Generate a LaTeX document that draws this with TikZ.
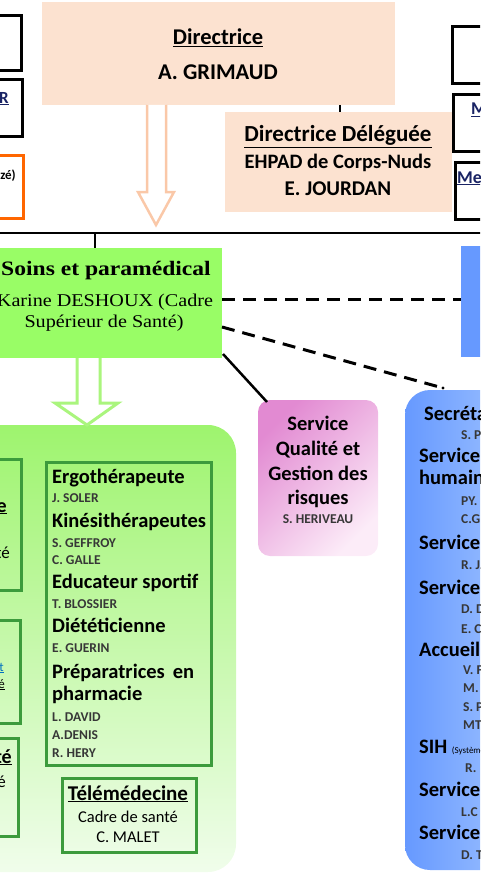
\documentclass[tikz,border=0pt]{standalone}
\usepackage{fontspec}
\setmainfont{Carlito}
\newfontfamily\timesf{Liberation Serif}
\usetikzlibrary{calc}
\definecolor{peach}{RGB}{252,226,208}
\definecolor{peachline}{RGB}{250,200,168}
\definecolor{soinsgreen}{RGB}{153,253,102}
\definecolor{gtop}{RGB}{158,244,110}
\definecolor{gbot}{RGB}{240,253,235}
\definecolor{gborder}{RGB}{60,155,60}
\definecolor{arrowgreen}{RGB}{170,245,125}
\definecolor{pinkA}{RGB}{226,138,210}
\definecolor{pinkB}{RGB}{252,236,248}
\definecolor{blueA}{RGB}{102,153,255}
\definecolor{blueC}{RGB}{160,195,255}
\definecolor{navy}{RGB}{25,35,100}
\definecolor{orangeb}{RGB}{255,102,0}
\definecolor{namegray}{RGB}{55,55,55}
\definecolor{linkblue}{RGB}{0,112,192}
\begin{document}
\begin{tikzpicture}[x=1pt,y=-1pt,
  bx/.style={inner sep=0pt,outer sep=0pt,anchor=north west},
  blk/.style={bx,draw=black,line width=3pt,fill=white},
  gbx/.style={bx,draw=gborder,line width=3pt},
  hd/.style={inner sep=0pt,anchor=base west,font=\bfseries\fontsize{20.5}{24}\selectfont},
  nm/.style={inner sep=0pt,anchor=base west,text=namegray,font=\bfseries\fontsize{13.5}{15}\selectfont},
  ttl/.style={inner sep=0pt,anchor=base,font=\bfseries\fontsize{22.5}{26}\selectfont},
  sub/.style={inner sep=0pt,anchor=base,font=\bfseries\fontsize{20.5}{24}\selectfont},
  reg/.style={inner sep=0pt,anchor=base,font=\fontsize{16.5}{20}\selectfont},
  conn/.style={line width=2.5pt,black},
  dsh/.style={line width=3pt,black,dash pattern=on 13pt off 8pt},
]
\useasboundingbox (0,0) rectangle (480,880);
\clip (0,0) rectangle (480,880);

% ---- top-left boxes
\node[blk,minimum width=41,minimum height=55] (la) at (-20,16) {};
\node[blk,minimum width=42,minimum height=56] (lb) at (-20,80) {};
\node[bx,draw=orangeb,line width=3pt,fill=white,minimum width=43,minimum height=63] (lc) at (-20,155) {};
\node[inner sep=0pt,anchor=base east,text=navy,font=\bfseries\fontsize{17}{20}\selectfont] (lbt) at (9,103) {\underline{R}};
\node[inner sep=0pt,anchor=base east,font=\bfseries\fontsize{13}{16}\selectfont] (lct) at (16,179) {zé)};

% ---- Directrice
\node[bx,fill=peach,minimum width=353,minimum height=103] (dir) at (42,2) {};
\node[ttl] (dir1) at (218,45) {\underline{Directrice}};
\node[ttl] (dir2) at (218,80) {A. GRIMAUD};

% ---- Directrice deleguee
\node[bx,fill=peach,minimum width=227,minimum height=100] (del) at (225,112) {};
\node[ttl,font=\bfseries\fontsize{23}{26}\selectfont] (del1) at (338,142) {\underline{Directrice Déléguée}};
\node[sub] (del2) at (338,168) {EHPAD de Corps-Nuds};
\node[sub,font=\bfseries\fontsize{21}{24}\selectfont] (del3) at (338,195) {E. JOURDAN};
\coordinate (tk) at (340,0);
\draw[conn] (tk |- dir.south) -- (tk |- del.north);

% ---- top-right boxes
\node[blk,minimum width=48,minimum height=57] (ra) at (452,27) {};
\node[blk,minimum width=47,minimum height=56] (rb) at (453,95) {};
\node[blk,minimum width=45,minimum height=57] (rc) at (455,162) {};
\node[inner sep=0pt,anchor=base west,text=navy,font=\bfseries\fontsize{18}{20}\selectfont] (rbt) at (471,115) {\underline{Médecin}};
\node[inner sep=0pt,anchor=base west,text=navy,font=\bfseries\fontsize{18}{20}\selectfont] (rct) at (457,183) {\underline{Medecin coordonnateur}};

% ---- peach hollow arrow
\draw[peachline,line width=2.5pt,fill=white,line join=miter]
  (147,105) -- (147,192) -- (138,192) -- (156,225) -- (174,192) -- (166,192) -- (166,105);

% ---- bus
\coordinate (busL) at (-5,233);
\coordinate (busR) at (485,233);
\draw[conn] (busL) -- (busR);

% ---- Soins
\node[bx,fill=soinsgreen,minimum width=242,minimum height=110] (soins) at (-20,248) {};
\node[inner sep=0pt,anchor=base,font=\timesf\bfseries\fontsize{20.5}{24}\selectfont] (s1) at (106,275) {\scalebox{1.15}[1]{Soins et paramédical}};
\node[inner sep=0pt,anchor=base,font=\timesf\fontsize{18}{22}\selectfont] (s2) at (105,306) {\scalebox{1.12}[1]{Karine DESHOUX (Cadre}};
\node[inner sep=0pt,anchor=base,font=\timesf\fontsize{18}{22}\selectfont] (s3) at (104,327) {\scalebox{1.12}[1]{Supérieur de Santé)}};
\coordinate (busS) at (95,233);
\draw[conn] (busS) -- (busS |- soins.north);

% ---- blue top-right
\node[bx,fill=blueA,minimum width=40,minimum height=111] (btop) at (461,246) {};

% ---- green panel
\node[bx,rounded corners=28pt,top color=gtop,bottom color=gbot,minimum width=276,minimum height=447] (gp) at (-40,425) {};
\draw[arrowgreen,line width=3pt,fill=white,line join=miter]
  (77,358) -- (77,403) -- (55,403) -- (87,425) -- (118,403) -- (100,403) -- (100,358);

% left clipped green boxes
\node[gbx,minimum width=41,minimum height=131] (lg) at (-20,459) {};
\node[gbx,minimum width=40,minimum height=103] (lh) at (-20,620) {};
\node[gbx,minimum width=38,minimum height=98] (li) at (-20,738) {};
\node[inner sep=0pt,anchor=base east,font=\bfseries\fontsize{20}{24}\selectfont] (lgt1) at (7,512) {\underline{e}};
\node[inner sep=0pt,anchor=base east,font=\fontsize{17}{20}\selectfont] (lgt2) at (10,558) {té};
\node[inner sep=0pt,anchor=base east,text=linkblue,font=\fontsize{13}{16}\selectfont] (lht1) at (4,671) {\underline{t}};
\node[inner sep=0pt,anchor=base east,font=\fontsize{13}{16}\selectfont] (lht2) at (5,688) {\underline{é}};
\node[inner sep=0pt,anchor=base east,font=\bfseries\fontsize{20}{24}\selectfont] (lit1) at (12,763) {\underline{té}};
\node[inner sep=0pt,anchor=base east,font=\fontsize{17}{20}\selectfont] (lit2) at (6,787) {é};

% list box
\node[gbx,minimum width=165,minimum height=303] (list) at (46,462) {};
\node[hd] (e1) at (52,483) {Ergothérapeute};
\node[nm] (e2) at (52,502) {J. SOLER};
\node[hd] (e3) at (52,527) {Kinésithérapeutes};
\node[nm] (e4) at (52,547) {S. GEFFROY};
\node[nm] (e5) at (52,564) {C. GALLE};
\node[hd] (e6) at (52,588) {Educateur sportif};
\node[nm] (e7) at (52,608) {T. BLOSSIER};
\node[hd] (e8) at (52,632) {Diététicienne};
\node[nm] (e9) at (52,652) {E. GUERIN};
\node[hd] (e10) at (52,678) {Préparatrices\hspace{8pt}en};
\node[hd] (e11) at (52,700) {pharmacie};
\node[nm] (e12) at (52,721) {L. DAVID};
\node[nm] (e13) at (52,739) {A.DENIS};
\node[nm] (e14) at (52,757) {R. HERY};

% telemedecine
\node[gbx,minimum width=134,minimum height=74] (tele) at (62,778) {};
\node[sub,font=\bfseries\fontsize{21}{24}\selectfont] (t1) at (128,800) {\underline{Télémédecine}};
\node[reg] (t2) at (128,822) {Cadre de santé};
\node[reg] (t3) at (128,842) {C. MALET};

% ---- pink box
\node[bx,rounded corners=12pt,top color=pinkA,bottom color=pinkB,shading angle=45,minimum width=120,minimum height=156] (pink) at (258,400) {};
\node[sub] (p1) at (318,430) {Service};
\node[sub] (p2) at (318,455) {Qualité et};
\node[sub] (p3) at (318,480) {Gestion des};
\node[sub] (p4) at (318,504) {risques};
\node[inner sep=0pt,anchor=base,text=namegray,font=\bfseries\fontsize{13.5}{15}\selectfont] (p5) at (318,523) {S. HERIVEAU};

% ---- blue panel
\node[bx,rounded corners=25pt,left color=blueA,right color=blueC,minimum width=115,minimum height=480] (bp) at (405,390) {};
\node[hd] (b1) at (424,420) {Secrétariat};
\node[nm] (b2) at (461,439) {S. P};
\node[hd] (b3) at (419,462) {Service des};
\node[hd] (b4) at (419,484) {humaines};
\node[nm] (b5) at (461,505) {PY.};
\node[nm] (b6) at (461,523) {C.G};
\node[hd] (b7) at (419,549) {Service};
\node[nm] (b8) at (461,569) {R. J.};
\node[hd] (b9) at (419,594) {Service};
\node[nm] (b10) at (461,613) {D. D};
\node[nm] (b11) at (461,633) {E. C};
\node[hd] (b12) at (419,656) {Accueil};
\node[nm] (b13) at (463,674) {V. F};
\node[nm] (b14) at (463,692) {M.};
\node[nm] (b15) at (463,711) {S. P};
\node[nm] (b16) at (463,729) {MT};
\node[hd] (b17) at (419,753) {SIH {\mdseries\fontsize{9}{10}\selectfont(Système}};
\node[nm] (b18) at (465,772) {R.};
\node[hd] (b19) at (419,796) {Service};
\node[nm] (b20) at (461,816) {L.C};
\node[hd] (b21) at (419,839) {Service};
\node[nm] (b22) at (461,859) {D. T};

% ---- connectors from Soins
\coordinate (h299) at (0,299);
\coordinate (h327) at (0,327);
\coordinate (bend) at (443,388);
\draw[dsh] (soins.east |- h299) -- (btop.west |- h299);
\draw[dsh] (soins.east |- h327) -- (bend);
\fill (bend) circle (1.6pt);
\draw[conn] ($(soins.south east)+(1,-4)$) -- ($(pink.north west)+(9,2)$);
\end{tikzpicture}
\end{document}
